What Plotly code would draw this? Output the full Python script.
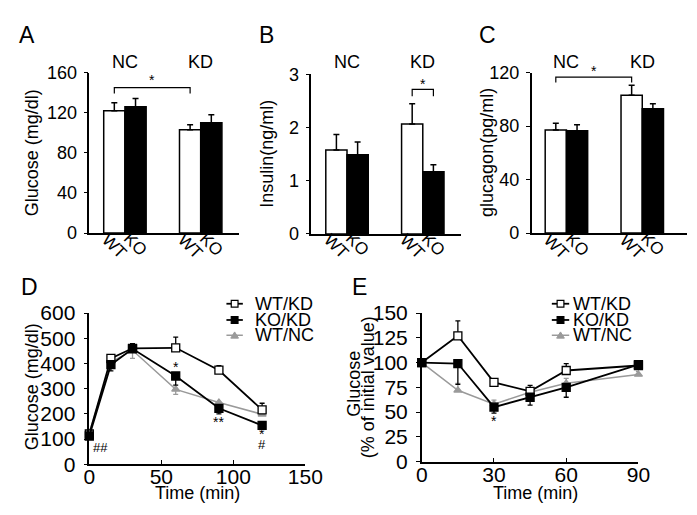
import plotly.graph_objects as go

W, H = 697, 515
FONT = "Liberation Sans, Arial, Helvetica, sans-serif"

# ---------------- data ----------------
groups = ["NC", "KD"]
genotypes = ["WT", "KO"]

# Panel A glucose (mg/dl)
glu_wt = [122, 103]
glu_wt_err = [8, 5]
glu_ko = [126, 110]
glu_ko_err = [8, 8]

# Panel B insulin (ng/ml)
ins_wt = [1.58, 2.07]
ins_wt_err = [0.29, 0.38]
ins_ko = [1.49, 1.17]
ins_ko_err = [0.24, 0.13]

# Panel C glucagon (pg/ml)
gcg_wt = [77, 103]
gcg_wt_err = [5, 7.5]
gcg_ko = [76.5, 93]
gcg_ko_err = [4.5, 3.6]

# Panel D glucose tolerance test
gtt_time = [0, 15, 30, 60, 90, 120]
gtt_wtkd = [120, 420, 460, 462, 373, 216]
gtt_wtkd_up = [0, 8, 18, 42, 18, 26]
gtt_kokd = [112, 395, 458, 350, 222, 154]
gtt_kokd_dn = [10, 25, 0, 36, 22, 0]
gtt_wtnc = [125, 405, 452, 297, 245, 198]
gtt_wtnc_up = [0, 10, 0, 0, 0, 0]
gtt_wtnc_dn = [0, 15, 32, 20, 0, 0]

# Panel E insulin tolerance test (% of initial value)
itt_time = [0, 15, 30, 45, 60, 90]
itt_wtkd = [100, 127, 80, 71, 92, 97]
itt_wtkd_up = [0, 15, 0, 6, 7, 0]
itt_kokd = [100, 99, 55, 65, 75, 98]
itt_kokd_dn = [0, 21, 6, 8, 10, 0]
itt_wtnc = [100, 72, 58, 70, 79, 88]
itt_wtnc_up = [0, 7, 4, 4, 5, 3]

series_names = ["WT/KD", "KO/KD", "WT/NC"]

# ---------------- helpers ----------------
def fx(px):
    return px / W

def fy(py):
    return 1 - py / H

GRAY = "#9a9a9a"
BAR_W = 0.28

fig = go.Figure()

bar_panels = [
    ("x", "y", glu_wt, glu_wt_err, glu_ko, glu_ko_err),
    ("x2", "y2", ins_wt, ins_wt_err, ins_ko, ins_ko_err),
    ("x3", "y3", gcg_wt, gcg_wt_err, gcg_ko, gcg_ko_err),
]
gx = list(range(len(groups)))
for xa, ya, wt, wte, ko, koe in bar_panels:
    fig.add_trace(go.Bar(
        x=gx, y=wt, xaxis=xa, yaxis=ya, name="WT", showlegend=False,
        marker=dict(color="white", line=dict(color="black", width=1.5)),
        error_y=dict(type="data", symmetric=False, array=wte, arrayminus=[0] * len(wt),
                     color="black", thickness=1.5, width=3),
    ))
    fig.add_trace(go.Bar(
        x=gx, y=ko, xaxis=xa, yaxis=ya, name="KO", showlegend=False,
        marker=dict(color="black", line=dict(color="black", width=1.5)),
        error_y=dict(type="data", symmetric=False, array=koe, arrayminus=[0] * len(ko),
                     color="black", thickness=1.5, width=3),
    ))

# line panels
def add_line(xa, ya, t, v, up, dn, style):
    color, sym, mcol, lw = style
    fig.add_trace(go.Scatter(
        x=t, y=v, xaxis=xa, yaxis=ya, mode="lines+markers", showlegend=False,
        line=dict(color=color, width=lw),
        marker=dict(symbol=sym, size=8 if sym != "triangle-up" else 7, color=mcol,
                    line=dict(color=color, width=1.3)),
        error_y=dict(type="data", symmetric=False, array=up, arrayminus=dn,
                     color=color, thickness=1.3, width=2.5),
        cliponaxis=False,
    ))

st_wtkd = ("black", "square", "white", 1.8)
st_kokd = ("black", "square", "black", 1.8)
st_wtnc = (GRAY, "triangle-up", GRAY, 1.5)

add_line("x4", "y4", gtt_time, gtt_wtnc, gtt_wtnc_up, gtt_wtnc_dn, st_wtnc)
add_line("x4", "y4", gtt_time, gtt_wtkd, gtt_wtkd_up, [0] * 6, st_wtkd)
add_line("x4", "y4", gtt_time, gtt_kokd, [0] * 6, gtt_kokd_dn, st_kokd)

add_line("x5", "y5", itt_time, itt_wtnc, itt_wtnc_up, [0] * 6, st_wtnc)
add_line("x5", "y5", itt_time, itt_wtkd, itt_wtkd_up, [0] * 6, st_wtkd)
add_line("x5", "y5", itt_time, itt_kokd, [0] * 6, itt_kokd_dn, st_kokd)

# ---------------- axes ----------------
tickfont = dict(family=FONT, size=18, color="black")
tickfont_big = dict(family=FONT, size=21, color="black")
common_y = dict(showline=True, linecolor="black", linewidth=1.5, ticks="outside",
                ticklen=4, tickwidth=1.2, tickcolor="black", showgrid=False,
                zeroline=False, tickfont=tickfont, ticklabelstandoff=3)
line_y = dict(common_y, tickfont=tickfont_big, ticklabelstandoff=4)
bar_x = dict(showline=True, linecolor="black", linewidth=1.5, ticks="",
             showticklabels=False, showgrid=False, zeroline=False)
line_x = dict(showline=True, linecolor="black", linewidth=1.5, ticks="inside",
              ticklen=4, tickwidth=1.2, tickcolor="black", showgrid=False,
              zeroline=False, tickfont=tickfont_big, ticklabelstandoff=-7)

layout = dict(
    width=W, height=H, margin=dict(l=0, r=0, t=0, b=0),
    paper_bgcolor="white", plot_bgcolor="white",
    barmode="group", bargap=1 - 2 * BAR_W, bargroupgap=0,
    font=dict(family=FONT, size=18, color="black"),
    showlegend=False,
    xaxis=dict(bar_x, domain=[fx(78), fx(233)], range=[-0.47, 1.505], anchor="y"),
    yaxis=dict(common_y, domain=[fy(223), fy(55)], range=[0, 160], dtick=40, anchor="x"),
    xaxis2=dict(bar_x, domain=[fx(308), fx(463)], range=[-0.47, 1.505], anchor="y2"),
    yaxis2=dict(common_y, domain=[fy(224), fy(57)], range=[0, 3], dtick=1, anchor="x2"),
    xaxis3=dict(bar_x, domain=[fx(536), fx(697)], range=[-0.46, 1.59], anchor="y3"),
    yaxis3=dict(common_y, domain=[fy(223), fy(55)], range=[0, 120], dtick=40, anchor="x3"),
    xaxis4=dict(line_x, domain=[fx(78), fx(301.7)], range=[0, 150], dtick=50, anchor="y4"),
    yaxis4=dict(line_y, domain=[fy(465), fy(306.7)], range=[0, 600], dtick=100, anchor="x4"),
    xaxis5=dict(line_x, domain=[fx(422.3), fx(646.7)], range=[0, 90], dtick=30, anchor="y5"),
    yaxis5=dict(line_y, domain=[fy(462.3), fy(306.7)], range=[0, 150], dtick=25, anchor="x5"),
)
fig.update_layout(**layout)

ann = []
shapes = []

def text(x, y, s, size=18, xref="paper", yref="paper", angle=0, xanchor="center", yanchor="middle", color="black"):
    ann.append(dict(x=x, y=y, text=s, xref=xref, yref=yref, showarrow=False, textangle=angle,
                    xanchor=xanchor, yanchor=yanchor, font=dict(family=FONT, size=size, color=color)))

# panel letters
for lab, px, py in [("A", 3, 16), ("B", 252, 16), ("C", 480, 16), ("D", 5, 280), ("E", 348, 280)]:
    text(fx(px), fy(py), lab, size=23, xanchor="left")

# y titles
text(fx(18), fy(139), "Glucose (mg/dl)", angle=-90)
text(fx(262), fy(140), "Insulin(ng/ml)", angle=-90)
text(fx(490), fy(139), "glucagon(pg/ml)", angle=-90)
text(fx(18), fy(384), "Glucose (mg/dl)", angle=-90)
text(fx(352), fy(381), "Glucose", angle=-90)
text(fx(366), fy(384), "(% of initial value)", angle=-90)

# x titles
text(fx(190), fy(495), "Time (min)")
text(fx(540), fy(495), "Time (min)")

# bar panels: group labels, genotype tick labels, brackets
for i, (xa, ya) in enumerate([("x", "y"), ("x2", "y2"), ("x3", "y3")]):
    for g, gname in enumerate(groups):
        text(g, fy(44), gname, xref=xa, yref="paper")
        for k, gt in enumerate(genotypes):
            xpos = g + (k - 0.5) * BAR_W
            text(xpos, fy(237 - 2 * k), gt, size=17, xref=xa, yref="paper", angle=45)

def bracket(xa, ya, x0, x1, ytop, ybot, ystar_px):
    shapes.append(dict(type="path", xref=xa, yref=ya,
                       path=f"M{x0},{ybot} L{x0},{ytop} L{x1},{ytop} L{x1},{ybot}",
                       line=dict(color="black", width=1.2)))
    text((x0 + x1) / 2, fy(ystar_px), "*", size=14, xref=xa, yref="paper")

wt_off = -0.5 * BAR_W
ko_off = 0.5 * BAR_W
bracket("x", "y", 0 + wt_off, 1 + wt_off, 145, 139, 63)
bracket("x2", "y2", 1 + wt_off, 1 + ko_off, 2.72, 2.59, 67)
bracket("x3", "y3", 0 + wt_off, 1 + wt_off, 116.5, 112.5, 53)

# significance marks in D and E
text(60, 386, "*", size=14, xref="x4", yref="y4")
text(90, 168, "**", size=14, xref="x4", yref="y4")
text(120, 121, "*", size=14, xref="x4", yref="y4")
text(120, 80, "#", size=13, xref="x4", yref="y4")
text(1, 66, "##", size=13, xref="x4", yref="y4", xanchor="left")
text(30, 41, "*", size=14, xref="x5", yref="y5")

# manual legends
def legend(x_line0, x_line1, x_text, rows_y):
    styles = [st_wtkd, st_kokd, st_wtnc]
    for name, st, py in zip(series_names, styles, rows_y):
        color, sym, mcol, lw = st
        shapes.append(dict(type="line", xref="paper", yref="paper",
                           x0=fx(x_line0), x1=fx(x_line1), y0=fy(py), y1=fy(py),
                           line=dict(color=color, width=lw)))
        xm = (x_line0 + x_line1) / 2
        if sym == "square":
            shapes.append(dict(type="rect", xref="paper", yref="paper",
                               x0=fx(xm - 3.5), x1=fx(xm + 3.5), y0=fy(py - 3.5), y1=fy(py + 3.5),
                               fillcolor=mcol, line=dict(color=color, width=1.2)))
        else:
            shapes.append(dict(type="path", xref="paper", yref="paper",
                               path=f"M{fx(xm - 4)},{fy(py + 3)} L{fx(xm + 4)},{fy(py + 3)} L{fx(xm)},{fy(py - 3.5)} Z",
                               fillcolor=mcol, line=dict(color=color, width=1)))
        text(fx(x_text), fy(py), name, xanchor="left", color="black")

legend(220, 237, 248, [297, 314, 330])
legend(557, 575, 577, [297, 314, 330])

fig.update_layout(annotations=ann, shapes=shapes)
fig.write_html("out.html")
